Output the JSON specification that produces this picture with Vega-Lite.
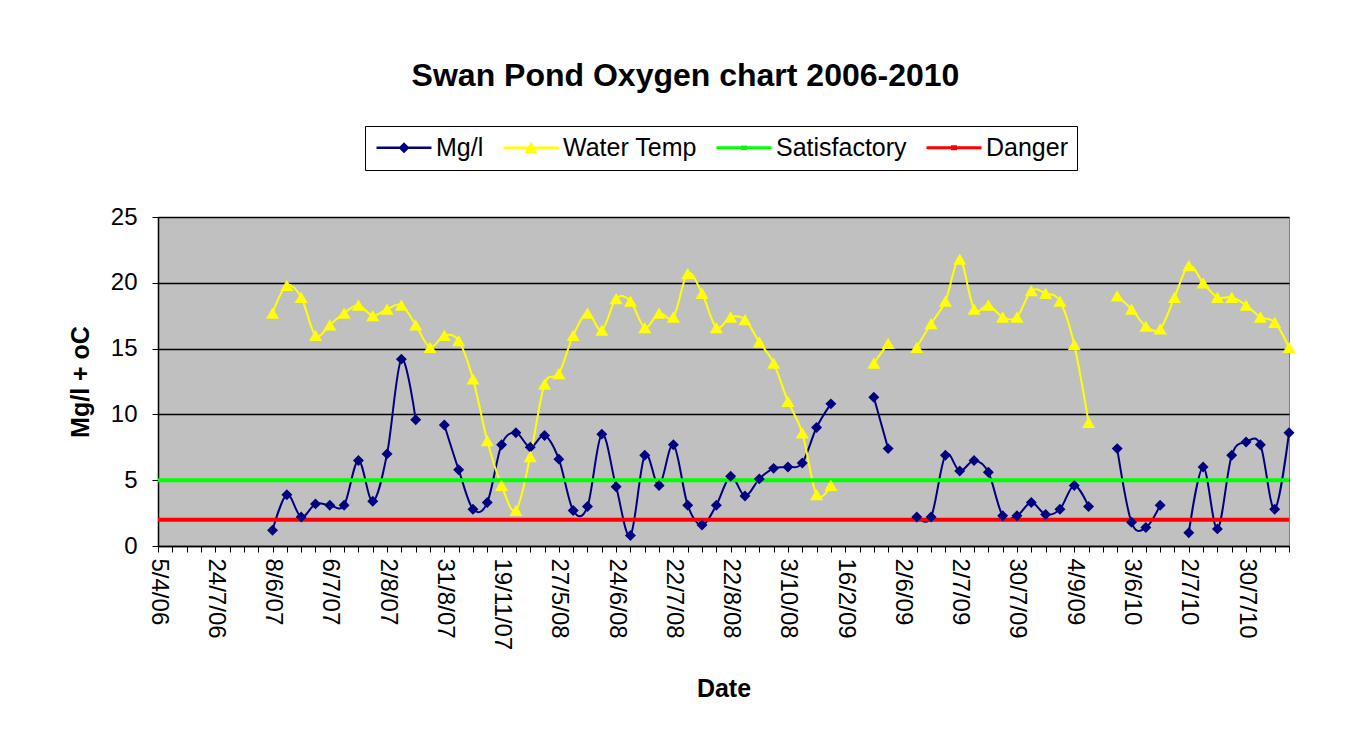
{
  "$schema": "https://vega.github.io/schema/vega-lite/v6.json",
  "width": 1131,
  "height": 329,
  "autosize": {"type": "none"},
  "padding": {"left": 158, "top": 217, "right": 61, "bottom": 203},
  "background": "white",
  "view": {"fill": "#C0C0C0", "stroke": "#808080", "strokeWidth": 1},
  "title": {
    "text": "Swan Pond Oxygen chart 2006-2010",
    "font": "Liberation Sans",
    "fontSize": 32,
    "fontWeight": "bold",
    "color": "black",
    "anchor": "middle",
    "frame": "group",
    "dx": -38,
    "offset": 33
  },
  "datasets": {
    "readings": [
      {"i": 8, "mg": 1.2, "temp": 17.7},
      {"i": 9, "mg": 3.9, "temp": 19.8},
      {"i": 10, "mg": 2.2, "temp": 18.9},
      {"i": 11, "mg": 3.2, "temp": 16.0},
      {"i": 12, "mg": 3.1, "temp": 16.8},
      {"i": 13, "mg": 3.1, "temp": 17.7},
      {"i": 14, "mg": 6.5, "temp": 18.3},
      {"i": 15, "mg": 3.4, "temp": 17.5},
      {"i": 16, "mg": 7.0, "temp": 18.0},
      {"i": 17, "mg": 14.2, "temp": 18.3},
      {"i": 18, "mg": 9.6, "temp": 16.8},
      {"i": 19, "mg": null, "temp": 15.1},
      {"i": 20, "mg": 9.2, "temp": 16.0},
      {"i": 21, "mg": 5.8, "temp": 15.6},
      {"i": 22, "mg": 2.8, "temp": 12.7},
      {"i": 23, "mg": 3.3, "temp": 8.0},
      {"i": 24, "mg": 7.7, "temp": 4.6},
      {"i": 25, "mg": 8.6, "temp": 2.7},
      {"i": 26, "mg": 7.5, "temp": 6.8},
      {"i": 27, "mg": 8.4, "temp": 12.3},
      {"i": 28, "mg": 6.6, "temp": 13.1},
      {"i": 29, "mg": 2.7, "temp": 16.0},
      {"i": 30, "mg": 3.0, "temp": 17.7},
      {"i": 31, "mg": 8.5, "temp": 16.4},
      {"i": 32, "mg": 4.5, "temp": 18.8},
      {"i": 33, "mg": 0.8, "temp": 18.6},
      {"i": 34, "mg": 6.9, "temp": 16.6},
      {"i": 35, "mg": 4.6, "temp": 17.7},
      {"i": 36, "mg": 7.7, "temp": 17.4},
      {"i": 37, "mg": 3.1, "temp": 20.7},
      {"i": 38, "mg": 1.6, "temp": 19.2},
      {"i": 39, "mg": 3.1, "temp": 16.6},
      {"i": 40, "mg": 5.3, "temp": 17.4},
      {"i": 41, "mg": 3.8, "temp": 17.2},
      {"i": 42, "mg": 5.1, "temp": 15.5},
      {"i": 43, "mg": 5.9, "temp": 13.9},
      {"i": 44, "mg": 6.0, "temp": 11.0},
      {"i": 45, "mg": 6.3, "temp": 8.6},
      {"i": 46, "mg": 9.0, "temp": 3.9},
      {"i": 47, "mg": 10.8, "temp": 4.6},
      {"i": 48, "mg": null, "temp": null},
      {"i": 49, "mg": null, "temp": null},
      {"i": 50, "mg": 11.3, "temp": 13.9},
      {"i": 51, "mg": 7.4, "temp": 15.4},
      {"i": 52, "mg": null, "temp": null},
      {"i": 53, "mg": 2.2, "temp": 15.1},
      {"i": 54, "mg": 2.2, "temp": 16.9},
      {"i": 55, "mg": 6.9, "temp": 18.6},
      {"i": 56, "mg": 5.7, "temp": 21.8},
      {"i": 57, "mg": 6.5, "temp": 18.0},
      {"i": 58, "mg": 5.6, "temp": 18.3},
      {"i": 59, "mg": 2.3, "temp": 17.4},
      {"i": 60, "mg": 2.3, "temp": 17.4},
      {"i": 61, "mg": 3.3, "temp": 19.4},
      {"i": 62, "mg": 2.4, "temp": 19.2},
      {"i": 63, "mg": 2.8, "temp": 18.6},
      {"i": 64, "mg": 4.6, "temp": 15.3},
      {"i": 65, "mg": 3.0, "temp": 9.4},
      {"i": 66, "mg": null, "temp": null},
      {"i": 67, "mg": 7.4, "temp": 19.0},
      {"i": 68, "mg": 1.8, "temp": 18.0},
      {"i": 69, "mg": 1.4, "temp": 16.7},
      {"i": 70, "mg": 3.1, "temp": 16.5},
      {"i": 71, "mg": null, "temp": 18.9},
      {"i": 72, "mg": 1.0, "temp": 21.3},
      {"i": 73, "mg": 6.0, "temp": 20.0},
      {"i": 74, "mg": 1.3, "temp": 18.9},
      {"i": 75, "mg": 6.9, "temp": 18.9},
      {"i": 76, "mg": 7.9, "temp": 18.3},
      {"i": 77, "mg": 7.7, "temp": 17.4},
      {"i": 78, "mg": 2.8, "temp": 17.0},
      {"i": 79, "mg": 8.6, "temp": 15.1}
    ],
    "levels": [
      {"series": "Satisfactory", "level": 5},
      {"series": "Danger", "level": 2}
    ],
    "series": [
      {"series": "Mg/l"}, {"series": "Water Temp"}, {"series": "Satisfactory"}, {"series": "Danger"}
    ]
  },
  "layer": [
    {
      "data": {"name": "readings"},
      "mark": {"type": "line", "interpolate": "cardinal", "color": "#000080", "strokeWidth": 2, "invalid": "break-paths-filter-domains"},
      "encoding": {
        "x": {
          "field": "i",
          "type": "quantitative",
          "scale": {"domain": [0, 79], "nice": false, "zero": false},
          "axis": {
            "title": "Date",
            "values": [0,1,2,3,4,5,6,7,8,9,10,11,12,13,14,15,16,17,18,19,20,21,22,23,24,25,26,27,28,29,30,31,32,33,34,35,36,37,38,39,40,41,42,43,44,45,46,47,48,49,50,51,52,53,54,55,56,57,58,59,60,61,62,63,64,65,66,67,68,69,70,71,72,73,74,75,76,77,78,79],
            "labelExpr": "datum.value % 4 === 0 ? ['5/4/06','24/7/06','8/6/07','6/7/07','2/8/07','31/8/07','19/11/07','27/5/08','24/6/08','22/7/08','22/8/08','3/10/08','16/2/09','2/6/09','2/7/09','30/7/09','4/9/09','3/6/10','2/7/10','30/7/10'][datum.value / 4] : ''"
          }
        },
        "y": {"field": "mg", "type": "quantitative", "title": "Mg/l + oC", "scale": {"domain": [0, 25], "nice": false}, "axis": {"values": [0, 5, 10, 15, 20, 25]}}
      }
    },
    {
      "data": {"name": "readings"},
      "mark": {"type": "line", "interpolate": "cardinal", "color": "#FFFF00", "strokeWidth": 2, "invalid": "break-paths-filter-domains"},
      "encoding": {
        "x": {
          "field": "i",
          "type": "quantitative",
          "scale": {"domain": [0, 79], "nice": false, "zero": false},
          "axis": {
            "title": "Date",
            "values": [0,1,2,3,4,5,6,7,8,9,10,11,12,13,14,15,16,17,18,19,20,21,22,23,24,25,26,27,28,29,30,31,32,33,34,35,36,37,38,39,40,41,42,43,44,45,46,47,48,49,50,51,52,53,54,55,56,57,58,59,60,61,62,63,64,65,66,67,68,69,70,71,72,73,74,75,76,77,78,79],
            "labelExpr": "datum.value % 4 === 0 ? ['5/4/06','24/7/06','8/6/07','6/7/07','2/8/07','31/8/07','19/11/07','27/5/08','24/6/08','22/7/08','22/8/08','3/10/08','16/2/09','2/6/09','2/7/09','30/7/09','4/9/09','3/6/10','2/7/10','30/7/10'][datum.value / 4] : ''"
          }
        },
        "y": {"field": "temp", "type": "quantitative", "title": "Mg/l + oC", "axis": {"values": [0, 5, 10, 15, 20, 25]}}
      }
    },
    {
      "data": {"name": "levels"},
      "transform": [{"filter": "datum.series === 'Satisfactory'"}],
      "mark": {"type": "rule", "color": "#00FF00", "strokeWidth": 4},
      "encoding": {
        "y": {"field": "level", "type": "quantitative", "title": "Mg/l + oC", "axis": {"values": [0, 5, 10, 15, 20, 25]}}
      }
    },
    {
      "data": {"name": "levels"},
      "transform": [{"filter": "datum.series === 'Danger'"}],
      "mark": {"type": "rule", "color": "#FF0000", "strokeWidth": 4},
      "encoding": {
        "y": {"field": "level", "type": "quantitative", "title": "Mg/l + oC", "axis": {"values": [0, 5, 10, 15, 20, 25]}}
      }
    },
    {
      "data": {"name": "readings"},
      "mark": {"type": "point", "shape": "diamond", "filled": true, "color": "#000080", "size": 120, "opacity": 1},
      "encoding": {
        "x": {
          "field": "i",
          "type": "quantitative",
          "scale": {"domain": [0, 79], "nice": false, "zero": false},
          "axis": {
            "title": "Date",
            "values": [0,1,2,3,4,5,6,7,8,9,10,11,12,13,14,15,16,17,18,19,20,21,22,23,24,25,26,27,28,29,30,31,32,33,34,35,36,37,38,39,40,41,42,43,44,45,46,47,48,49,50,51,52,53,54,55,56,57,58,59,60,61,62,63,64,65,66,67,68,69,70,71,72,73,74,75,76,77,78,79],
            "labelExpr": "datum.value % 4 === 0 ? ['5/4/06','24/7/06','8/6/07','6/7/07','2/8/07','31/8/07','19/11/07','27/5/08','24/6/08','22/7/08','22/8/08','3/10/08','16/2/09','2/6/09','2/7/09','30/7/09','4/9/09','3/6/10','2/7/10','30/7/10'][datum.value / 4] : ''"
          }
        },
        "y": {"field": "mg", "type": "quantitative", "title": "Mg/l + oC", "axis": {"values": [0, 5, 10, 15, 20, 25]}}
      }
    },
    {
      "data": {"name": "readings"},
      "mark": {"type": "point", "shape": "triangle-up", "filled": true, "color": "#FFFF00", "size": 170, "opacity": 1},
      "encoding": {
        "x": {
          "field": "i",
          "type": "quantitative",
          "scale": {"domain": [0, 79], "nice": false, "zero": false},
          "axis": {
            "title": "Date",
            "values": [0,1,2,3,4,5,6,7,8,9,10,11,12,13,14,15,16,17,18,19,20,21,22,23,24,25,26,27,28,29,30,31,32,33,34,35,36,37,38,39,40,41,42,43,44,45,46,47,48,49,50,51,52,53,54,55,56,57,58,59,60,61,62,63,64,65,66,67,68,69,70,71,72,73,74,75,76,77,78,79],
            "labelExpr": "datum.value % 4 === 0 ? ['5/4/06','24/7/06','8/6/07','6/7/07','2/8/07','31/8/07','19/11/07','27/5/08','24/6/08','22/7/08','22/8/08','3/10/08','16/2/09','2/6/09','2/7/09','30/7/09','4/9/09','3/6/10','2/7/10','30/7/10'][datum.value / 4] : ''"
          }
        },
        "y": {"field": "temp", "type": "quantitative", "title": "Mg/l + oC", "axis": {"values": [0, 5, 10, 15, 20, 25]}}
      }
    },
    {
      "data": {"name": "series"},
      "transform": [{"filter": "false"}],
      "mark": {"type": "point", "filled": true, "opacity": 1, "size": 400, "strokeWidth": 0},
      "encoding": {
        "color": {
          "field": "series",
          "type": "nominal",
          "scale": {"domain": ["Mg/l", "Water Temp", "Satisfactory", "Danger"], "range": ["#000080", "#FFFF00", "#00FF00", "#FF0000"]},
          "legend": {
            "title": null,
            "orient": "none",
            "direction": "horizontal",
            "legendX": 207,
            "legendY": -91,
            "padding": 9,
            "strokeColor": "black",
            "columnPadding": 17,
            "symbolSize": 400,
            "symbolStrokeWidth": 0,
            "labelOffset": 37,
            "labelFont": "Liberation Sans",
            "labelFontSize": 25,
            "labelColor": "black",
            "labelLimit": 300
          }
        },
        "shape": {
          "field": "series",
          "type": "nominal",
          "scale": {
            "domain": ["Mg/l", "Water Temp", "Satisfactory", "Danger"],
            "range": [
              "M-1,-0.12H4.5V0.12H-1ZM1.2,0L1.75,-0.55L2.3,0L1.75,0.55Z",
              "M-1,-0.12H4.5V0.12H-1ZM1.75,-0.6L2.4,0.55L1.1,0.55Z",
              "M-1,-0.14H4.5V0.14H-1ZM1.45,-0.22H2.05V0.22H1.45Z",
              "M-1,-0.16H4.5V0.16H-1ZM1.45,-0.24H2.05V0.24H1.45Z"
            ]
          },
          "legend": {
            "title": null,
            "orient": "none",
            "direction": "horizontal",
            "legendX": 207,
            "legendY": -91,
            "padding": 9,
            "strokeColor": "black",
            "columnPadding": 17,
            "symbolSize": 400,
            "symbolStrokeWidth": 0,
            "labelOffset": 37,
            "labelFont": "Liberation Sans",
            "labelFontSize": 25,
            "labelColor": "black",
            "labelLimit": 300
          }
        }
      }
    }
  ],
  "config": {
    "view": {"fill": "#C0C0C0", "stroke": "#808080", "strokeWidth": 1},
    "axis": {
      "labelFont": "Liberation Sans",
      "labelFontSize": 24,
      "labelColor": "black",
      "titleFont": "Liberation Sans",
      "titleFontSize": 25,
      "titleFontWeight": "bold",
      "titleColor": "black",
      "domainColor": "black",
      "domainWidth": 1.5,
      "tickColor": "black",
      "tickWidth": 1,
      "tickSize": 6
    },
    "axisY": {"grid": true, "gridColor": "black", "gridWidth": 1.5, "labelPadding": 15, "titlePadding": 17},
    "axisX": {"grid": false, "labelAngle": 90, "labelPadding": 6, "labelOverlap": false, "labelFlush": false, "titlePadding": 27}
  }
}
